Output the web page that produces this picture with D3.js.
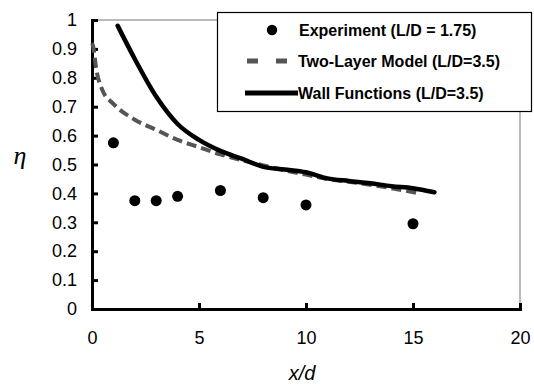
<!DOCTYPE html>
<html>
<head>
<meta charset="utf-8">
<script src="https://cdn.jsdelivr.net/npm/d3@7"></script>
<style>
  body { margin: 0; background: #fff; }
  svg { display: block; font-family: "Liberation Sans", Arial, sans-serif; }
</style>
</head>
<body>
<div id="chart"></div>
<script>
// data
var expX = [1, 2, 3, 4, 6, 8, 10, 15];
var expY = [0.575, 0.375, 0.375, 0.39, 0.41, 0.385, 0.36, 0.295];

var twoLayerX = [0, 0.05, 0.2, 0.5, 1, 2, 3, 4, 5, 6, 7, 8, 9, 10, 11, 12, 13, 14, 15.3];
var twoLayerY = [0.92, 0.91, 0.83, 0.755, 0.71, 0.655, 0.62, 0.585, 0.56, 0.535, 0.515, 0.497, 0.48, 0.465, 0.45, 0.44, 0.43, 0.418, 0.4];

var wallX = [1.2, 2, 3, 4, 5, 6, 7, 8, 9, 10, 11, 12, 13, 14, 15, 16];
var wallY = [0.98, 0.865, 0.735, 0.64, 0.585, 0.547, 0.52, 0.492, 0.483, 0.473, 0.452, 0.443, 0.435, 0.425, 0.418, 0.404];

var xTicks = [0, 5, 10, 15, 20];
var yTicks = [0, 0.1, 0.2, 0.3, 0.4, 0.5, 0.6, 0.7, 0.8, 0.9, 1];
var legendLabels = ["Experiment (L/D = 1.75)", "Two-Layer Model (L/D=3.5)", "Wall Functions (L/D=3.5)"];

var svgWidth = 534, svgHeight = 384;
var margin = {top: 20, right: 14, bottom: 75, left: 92};
var width = svgWidth - margin.left - margin.right;
var height = svgHeight - margin.top - margin.bottom;

var svg = d3.select("#chart").append("svg")
  .attr("width", svgWidth)
  .attr("height", svgHeight);

var chartGroup = svg.append("g")
  .attr("transform", `translate(${margin.left}, ${margin.top})`);

var x = d3.scaleLinear().domain([0, 20]).range([0, width]);
var y = d3.scaleLinear().domain([0, 1]).range([height, 0]);

// thin frame on top and right
chartGroup.append("line")
  .attr("x1", 0).attr("x2", width).attr("y1", 0).attr("y2", 0)
  .attr("stroke", "#777").attr("stroke-width", 1);
chartGroup.append("line")
  .attr("x1", width).attr("x2", width).attr("y1", 0).attr("y2", height)
  .attr("stroke", "#777").attr("stroke-width", 1);

// axes
var leftAxis = d3.axisLeft(y).tickValues(yTicks).tickSize(-6).tickPadding(15)
  .tickFormat(d => d3.format("")(+d.toFixed(1)));
var bottomAxis = d3.axisBottom(x).tickValues(xTicks).tickSize(-6).tickPadding(22);

var yAxisG = chartGroup.append("g").call(leftAxis);
var xAxisG = chartGroup.append("g").attr("transform", `translate(0, ${height})`).call(bottomAxis);

[yAxisG, xAxisG].forEach(function(g) {
  g.select(".domain").attr("stroke", "#000").attr("stroke-width", 3);
  g.selectAll(".tick line").attr("stroke", "#000").attr("stroke-width", 3);
  g.selectAll(".tick text")
    .style("font-family", "'Liberation Sans', Arial, sans-serif")
    .style("font-size", "18px")
    .attr("fill", "#000");
});

// lines
var twoLayer = twoLayerX.map((d, i) => [d, twoLayerY[i]]);
var wall = wallX.map((d, i) => [d, wallY[i]]);

var line = d3.line()
  .x(d => x(d[0]))
  .y(d => y(d[1]))
  .curve(d3.curveMonotoneX);

chartGroup.append("path")
  .datum(twoLayer)
  .attr("d", line)
  .attr("fill", "none")
  .attr("stroke", "#555")
  .attr("stroke-width", 4)
  .attr("stroke-dasharray", "10,5");

chartGroup.append("path")
  .datum(wall)
  .attr("d", line)
  .attr("fill", "none")
  .attr("stroke", "#000")
  .attr("stroke-width", 4.5)
  .attr("stroke-linecap", "round");

// experiment points
chartGroup.selectAll("circle.exp")
  .data(expX)
  .enter()
  .append("circle")
  .attr("class", "exp")
  .attr("cx", d => x(d))
  .attr("cy", (d, i) => y(expY[i]))
  .attr("r", 5.5)
  .attr("fill", "#000");

// legend
var legend = svg.append("g");
legend.append("rect")
  .attr("x", 217.5).attr("y", 12.5)
  .attr("width", 314).attr("height", 99)
  .attr("fill", "#fff")
  .attr("stroke", "#000")
  .attr("stroke-width", 1.2);

legend.append("circle")
  .attr("cx", 272).attr("cy", 30).attr("r", 5.2).attr("fill", "#000");
legend.append("line")
  .attr("x1", 247).attr("x2", 290).attr("y1", 61).attr("y2", 61)
  .attr("stroke", "#555").attr("stroke-width", 5)
  .attr("stroke-dasharray", "11,18");
legend.append("line")
  .attr("x1", 245).attr("x2", 298).attr("y1", 93).attr("y2", 93)
  .attr("stroke", "#000").attr("stroke-width", 5);

var legendX = [299, 298, 298];
var legendY = [36, 67, 99];
legend.selectAll("text")
  .data(legendLabels)
  .enter()
  .append("text")
  .attr("x", (d, i) => legendX[i])
  .attr("y", (d, i) => legendY[i])
  .style("font-size", "16px")
  .style("font-weight", "bold")
  .text(d => d);

// axis titles
svg.append("text")
  .attr("x", 20).attr("y", 164)
  .attr("text-anchor", "middle")
  .style("font-family", "'Liberation Serif', 'Times New Roman', serif")
  .style("font-style", "italic")
  .style("font-size", "26px")
  .text("η");

svg.append("text")
  .attr("x", 302).attr("y", 380)
  .attr("text-anchor", "middle")
  .style("font-style", "italic")
  .style("font-size", "20px")
  .text("x/d");
</script>
</body>
</html>
